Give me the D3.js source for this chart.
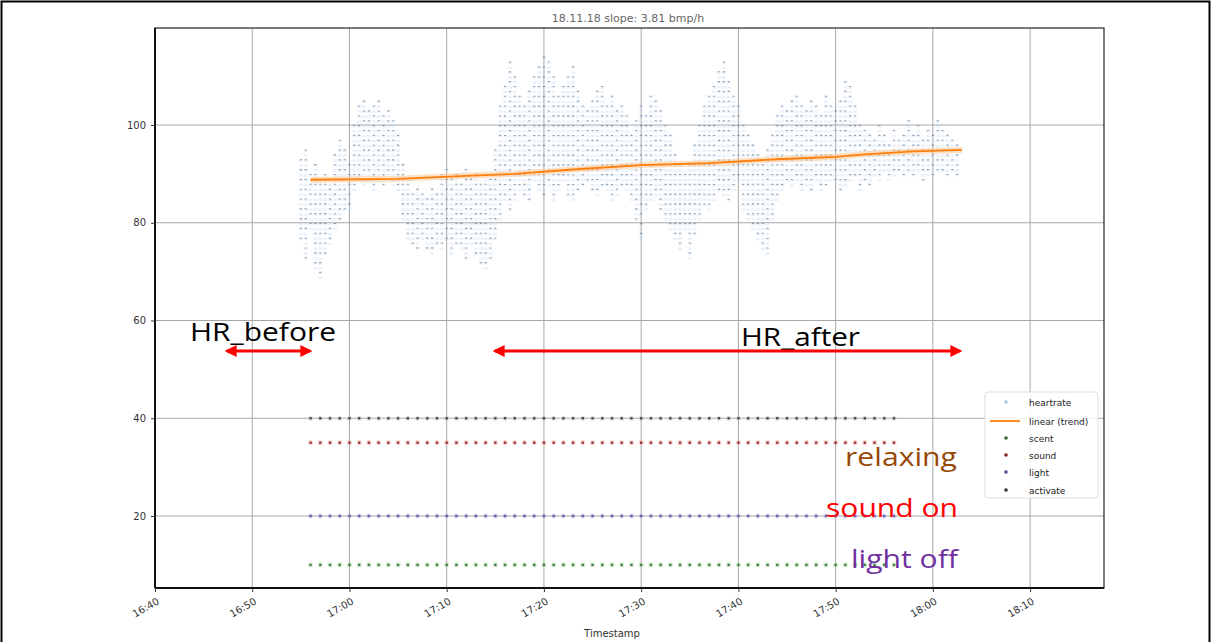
<!DOCTYPE html>
<html><head><meta charset="utf-8">
<script src="https://cdn.jsdelivr.net/npm/d3@7"></script>
<style>body{margin:0;background:#fff}svg{display:block}</style>
</head><body>
<svg id="c" width="1212" height="642"></svg>
<script>
// ---------- data ----------
const chartTitle = "18.11.18  slope: 3.81 bmp/h";
const xLabel = "Timestamp";
const yTicks = [20, 40, 60, 80, 100];
const xTickLabels = ["16:40","16:50","17:00","17:10","17:20","17:30","17:40","17:50","18:00","18:10"];
const legendLabels = ["heartrate","linear (trend)","scent","sound","light","activate"];

// heart-rate samples: one column every 30 s starting 16:55:00, high / low bpm of the column
const hrStart = "16:55:00";
const hrHigh = [93,95,90,92,88,90,89,94,97,95,92,100,104,105,103,104,105,102,103,101,98,92,88,86,87,86,85,87,86,90,
  91,89,90,88,91,89,90,88,90,89,95,104,108,113,110,106,104,107,110,112,114,113,110,106,108,110,112,107,104,103,
  105,107,108,104,106,103,104,102,98,101,104,102,106,105,103,100,98,94,92,90,92,96,100,104,106,108,111,113,109,106,
  104,100,98,96,94,92,95,98,102,104,103,105,106,104,103,105,104,102,106,104,103,105,109,108,104,100,99,98,97,100,
  98,96,99,97,98,101,98,100,97,99,98,101,99,98,97,96];
const hrLow = [76,72,78,70,68,73,75,78,80,82,82,86,88,87,88,86,88,87,89,87,86,80,76,75,74,76,74,73,75,74,
  76,73,75,74,72,75,73,71,70,72,76,80,84,82,84,86,85,84,88,86,85,87,84,86,88,85,84,86,87,88,
  86,85,87,86,84,85,87,86,84,80,76,82,84,85,82,80,78,76,74,78,72,77,80,83,82,84,86,85,84,86,
  88,82,80,78,76,74,73,80,84,86,88,87,88,86,87,86,88,86,87,88,88,86,87,88,89,86,88,87,89,88,
  90,88,89,90,89,90,89,90,88,89,89,90,90,89,90,89];

// linear trend (time, bpm)
const trendTimes  = ["16:56","17:05","17:12","17:17","17:23","17:30","17:37","17:44","17:50","17:53","17:58","18:03"];
const trendValues = [88.8, 89.0, 89.6, 90.0, 90.9, 91.8, 92.2, 93.0, 93.5, 94.0, 94.6, 94.9];

// event markers (minutes after 16:40) and their level
const eventMinutes = [16,17,18,19,20,21,22,23,24,25,26,27,28,29,30,31,32,33,34,35,36,37,38,39,40,41,42,43,44,45,
  46,47,48,49,50,51,52,53,54,55,56,57,58,59,60,61,62,63,64,65,66,67,68,69,70,71,72,73,74,75,76];
const eventNames  = ["scent","sound","light","activate"];
const eventLevels = [10, 35, 20, 40];

// ---------- helpers ----------
const day = [2018, 10, 18];
function t(hms){ const p = hms.split(":").map(Number); return new Date(day[0], day[1], day[2], p[0], p[1], p[2]||0); }
function tm(min){ return new Date(t("16:40").getTime() + min*60000); }

const svg = d3.select("#c");
const L = 155, R = 1104, T = 28, B = 588;
const x = d3.scaleTime().domain([t("16:40"), t("18:17:36")]).range([L, R]);
const y = d3.scaleLinear().domain([5.27, 119.85]).range([B, T]);

// outer border
svg.append("rect").attr("x",1.5).attr("y",1.5).attr("width",1208).attr("height",700)
  .attr("fill","none").attr("stroke","#000").attr("stroke-width",2);

// grid
const xTicks = xTickLabels.map(s => t(s));
const g = svg.append("g");
g.selectAll("line.gx").data(xTicks.slice(1)).join("line")
  .attr("x1", d => x(d)).attr("x2", d => x(d)).attr("y1", T).attr("y2", B)
  .attr("stroke", "#a8a8a8").attr("stroke-width", 1);
g.selectAll("line.gy").data(yTicks).join("line")
  .attr("x1", L).attr("x2", R).attr("y1", d => y(d)).attr("y2", d => y(d))
  .attr("stroke", "#a8a8a8").attr("stroke-width", 1);

// heart rate columns
const hrT0 = t(hrStart).getTime();
const hr = hrHigh.map((h, i) => ({ t: new Date(hrT0 + i*30000), hi: h, lo: hrLow[i] }));
svg.append("g").selectAll("line").data(hr).join("line")
  .attr("x1", d => x(d.t)).attr("x2", d => x(d.t))
  .attr("y1", d => y(d.hi)).attr("y2", d => y(d.lo))
  .attr("stroke", "#c6dbef").attr("stroke-opacity", 0.35).attr("stroke-width", 4)
  .attr("stroke-dasharray", "2.5 2.4");
svg.append("g").selectAll("line").data(hr).join("line")
  .attr("x1", d => x(d.t)).attr("x2", d => x(d.t))
  .attr("y1", d => y(d.hi)).attr("y2", d => y(d.lo))
  .attr("stroke", "#34506e").attr("stroke-opacity", 0.5).attr("stroke-width", 2)
  .attr("stroke-dasharray", "1.1 8.7");

// trend line
const trend = trendTimes.map((s, i) => ({ t: t(s), v: trendValues[i] }));
const line = d3.line().x(d => x(d.t)).y(d => y(d.v));
svg.append("path").datum(trend).attr("d", line).attr("fill","none")
  .attr("stroke","#ffbb78").attr("stroke-opacity",0.45).attr("stroke-width",6);
svg.append("path").datum(trend).attr("d", line).attr("fill","none")
  .attr("stroke","#ff7f0e").attr("stroke-width",1.8);

// event rows
const evColors = ["#2f6b2f","#8b1f1f","#5b4b9c","#333333"];
const evHalo   = ["#b8e0b0","#f4b4b4","#c8c0ec","#cccccc"];
eventLevels.forEach((lv, k) => {
  const gr = svg.append("g");
  gr.selectAll("circle.h").data(eventMinutes).join("circle")
    .attr("cx", d => x(tm(d))).attr("cy", y(lv)).attr("r", 2.6)
    .attr("fill", evHalo[k]).attr("opacity", 0.5);
  gr.selectAll("rect").data(eventMinutes).join("rect")
    .attr("x", d => x(tm(d)) - 1.2).attr("y", y(lv) - 1.2).attr("width", 2.4).attr("height", 2.4)
    .attr("fill", evColors[k]).attr("opacity", 0.85);
});

// axes frame
svg.append("rect").attr("x", L).attr("y", T).attr("width", R-L).attr("height", B-T)
  .attr("fill","none").attr("stroke","#222").attr("stroke-width",1.2);
svg.append("line").attr("x1",L).attr("x2",R).attr("y1",B).attr("y2",B).attr("stroke","#111").attr("stroke-width",2);
svg.append("line").attr("x1",L).attr("x2",L).attr("y1",T).attr("y2",B).attr("stroke","#111").attr("stroke-width",2);

// y axis
const yAx = svg.append("g").attr("transform", `translate(${L},0)`)
  .call(d3.axisLeft(y).tickValues(yTicks).tickSize(4).tickPadding(5).tickFormat(d3.format("d")));
yAx.select(".domain").remove();
yAx.selectAll("text").attr("font-family","DejaVu Sans").attr("font-size",10).attr("fill","#333");
yAx.selectAll("line").attr("stroke","#333");

// x axis
const xAx = svg.append("g").attr("transform", `translate(0,${B})`)
  .call(d3.axisBottom(x).tickValues(xTicks).tickSize(4).tickFormat(d3.timeFormat("%H:%M")));
xAx.select(".domain").remove();
xAx.selectAll("line").attr("stroke","#333");
xAx.selectAll("text").attr("font-family","DejaVu Sans").attr("font-size",10).attr("fill","#333")
  .attr("text-anchor","end").attr("transform","translate(-2,4) rotate(-30)").attr("dy","0.9em").attr("y",4);

// labels
svg.append("text").attr("x", 628).attr("y", 22).attr("text-anchor","middle")
  .attr("font-family","DejaVu Sans").attr("font-size",11).attr("fill","#666").text(chartTitle);
svg.append("text").attr("x", 612).attr("y", 637).attr("text-anchor","middle")
  .attr("font-family","DejaVu Sans").attr("font-size",10).attr("fill","#333").text(xLabel);

// legend
const lg = svg.append("g");
lg.append("rect").attr("x",985).attr("y",392).attr("width",113).attr("height",106).attr("rx",3)
  .attr("fill","#fff").attr("fill-opacity",0.85).attr("stroke","#ddd");
const legY = [402, 421, 438, 455, 472, 490];
const legColors = ["#9ecae1","#ff7f0e"].concat(evColors);
legendLabels.forEach((lab, i) => {
  if (i === 1) {
    lg.append("line").attr("x1",990).attr("x2",1020).attr("y1",legY[i]).attr("y2",legY[i])
      .attr("stroke","#ff7f0e").attr("stroke-width",1.8);
  } else {
    lg.append("circle").attr("cx",1006).attr("cy",legY[i]).attr("r",1.8).attr("fill",legColors[i]);
  }
  lg.append("text").attr("x",1029).attr("y",legY[i]+3.5).attr("font-family","DejaVu Sans")
    .attr("font-size",9).attr("fill","#222").text(lab);
});

// annotations
const ann = [
  {text:"HR_before", x:190, y:341, w:146, c:"#000"},
  {text:"HR_after",  x:741, y:346, w:119, c:"#000"},
  {text:"relaxing",  x:845, y:466, w:112, c:"#984806"},
  {text:"sound on",  x:826, y:517, w:132, c:"#ff0000"},
  {text:"light off", x:851, y:568, w:107, c:"#7030a0"}
];
svg.append("g").selectAll("text").data(ann).join("text")
  .attr("x", d => d.x).attr("y", d => d.y).attr("fill", d => d.c)
  .attr("font-family","Open Sans").attr("font-size",26)
  .attr("textLength", d => d.w).attr("lengthAdjust","spacingAndGlyphs").text(d => d.text);

const defs = svg.append("defs");
defs.append("marker").attr("id","ah").attr("viewBox","0 0 10 10").attr("refX",8).attr("refY",5)
  .attr("markerWidth",4).attr("markerHeight",4).attr("orient","auto-start-reverse")
  .append("path").attr("d","M0,0 L10,5 L0,10 z").attr("fill","#ff0000");
[[224,313],[492,963]].forEach(a => {
  svg.append("line").attr("x1",a[0]+3).attr("x2",a[1]-3).attr("y1",351).attr("y2",351)
    .attr("stroke","#ff0000").attr("stroke-width",3)
    .attr("marker-start","url(#ah)").attr("marker-end","url(#ah)");
});
</script>
</body></html>
